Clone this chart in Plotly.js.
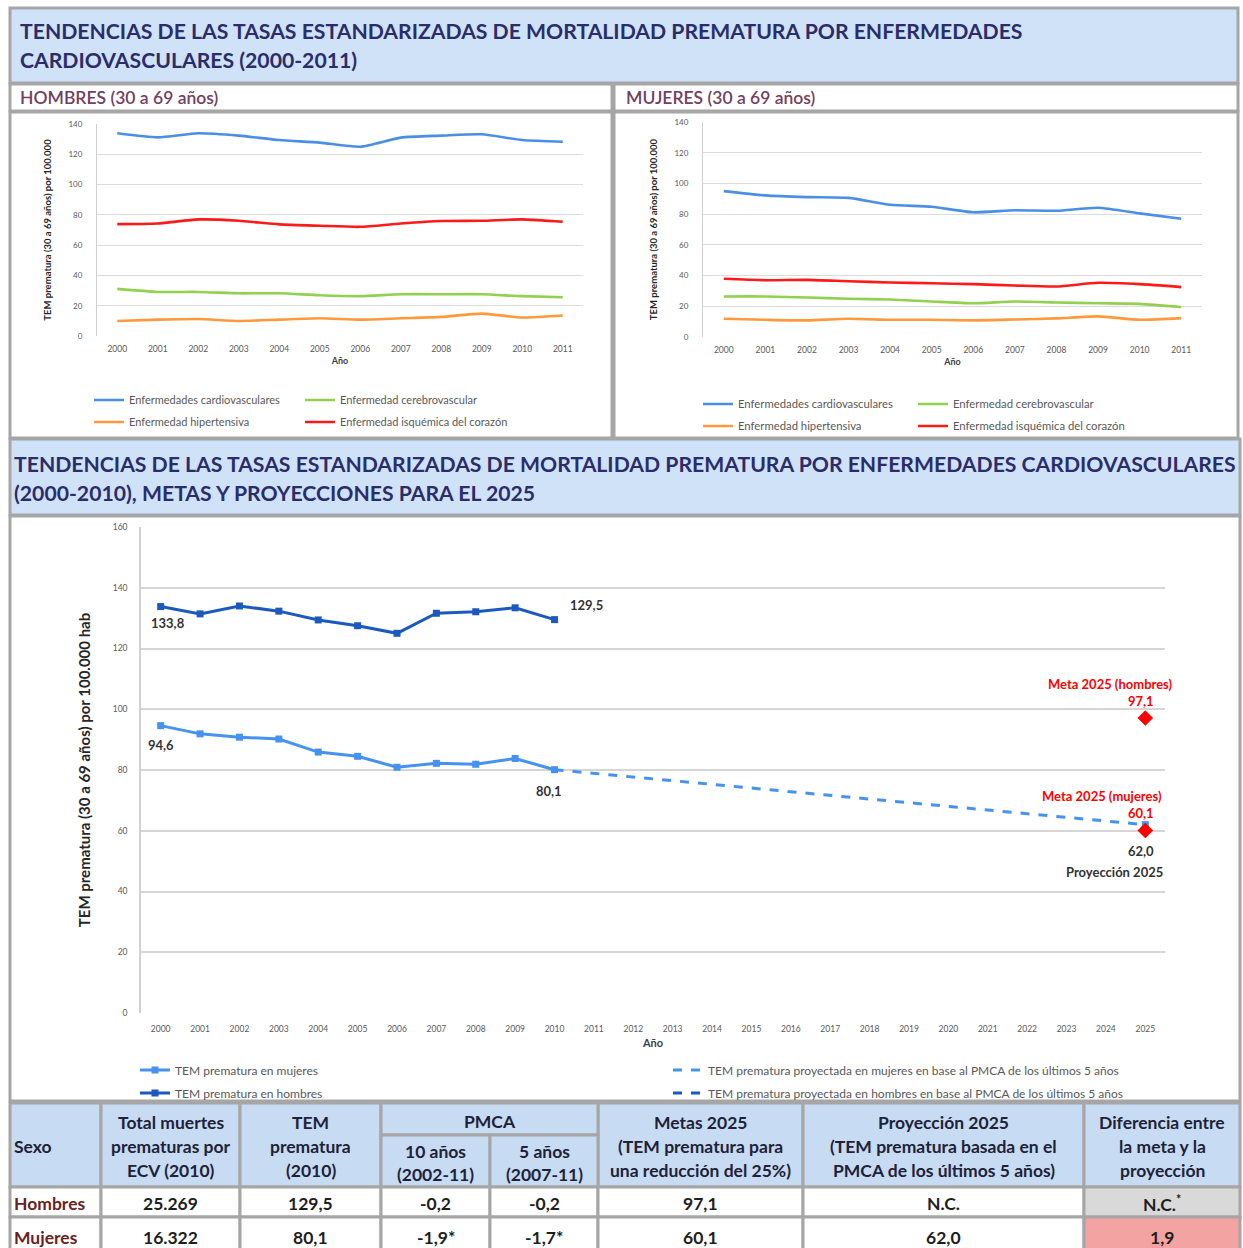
<!DOCTYPE html>
<html><head><meta charset="utf-8">
<script src="https://cdn.plot.ly/plotly-3.0.1.min.js"></script>
<style>html,body{margin:0;padding:0;background:#fff}</style>
</head><body>
<div id="chart" style="width:1243px;height:1248px"></div>
<script>
// ---------------- DATA ----------------
const years = [2000, 2001, 2002, 2003, 2004, 2005, 2006, 2007, 2008, 2009, 2010, 2011];
const yearLabels = ['2000','2001','2002','2003','2004','2005','2006','2007','2008','2009','2010','2011'];

const hombresCardio  = [133.9, 131.2, 133.9, 132.3, 129.4, 127.7, 125.0, 131.0, 132.3, 133.2, 129.4, 128.3];
const hombresCerebro = [31.1, 29.1, 29.1, 28.2, 28.2, 26.9, 26.3, 27.6, 27.6, 27.6, 26.3, 25.6];
const hombresHiper   = [9.9, 10.8, 11.2, 9.9, 10.8, 11.7, 10.8, 11.7, 12.6, 14.8, 12.2, 13.5];
const hombresIsq     = [73.9, 74.3, 77.0, 76.1, 73.7, 72.8, 72.1, 74.3, 75.9, 76.1, 77.0, 75.4];

const mujeresCardio  = [95.0, 92.2, 91.1, 90.6, 86.1, 84.8, 81.2, 82.5, 82.2, 84.2, 80.5, 77.0];
const mujeresCerebro = [26.4, 26.4, 25.7, 24.9, 24.4, 23.1, 22.0, 23.1, 22.5, 22.0, 21.6, 19.5];
const mujeresHiper   = [11.9, 11.2, 10.8, 11.9, 11.2, 11.2, 10.8, 11.4, 12.1, 13.4, 11.2, 12.3];
const mujeresIsq     = [37.9, 37.0, 37.2, 36.3, 35.5, 35.0, 34.4, 33.5, 32.9, 35.3, 34.4, 32.5];

const seriesNames = ['Enfermedades cardiovasculares', 'Enfermedad cerebrovascular', 'Enfermedad hipertensiva', 'Enfermedad isquémica del corazón'];

const yearsTem   = [2000, 2001, 2002, 2003, 2004, 2005, 2006, 2007, 2008, 2009, 2010];
const temHombres = [133.8, 131.4, 134.0, 132.3, 129.4, 127.5, 125.0, 131.6, 132.1, 133.4, 129.5];
const temMujeres = [94.6, 91.9, 90.8, 90.2, 85.9, 84.5, 80.9, 82.2, 81.9, 83.8, 80.1];
const yearsProy   = [2010, 2025];
const proyMujeres = [80.1, 62.0];
const metaYear    = [2025];
const metaHombres = [97.1];
const metaMujeres = [60.1];

const bottomYears = [2000,2001,2002,2003,2004,2005,2006,2007,2008,2009,2010,2011,2012,2013,2014,2015,2016,2017,2018,2019,2020,2021,2022,2023,2024,2025];
const bottomYearLabels = ['2000','2001','2002','2003','2004','2005','2006','2007','2008','2009','2010','2011','2012','2013','2014','2015','2016','2017','2018','2019','2020','2021','2022','2023','2024','2025'];

// table
const tableSexo        = ['Hombres', 'Mujeres'];
const tableTotal       = ['25.269', '16.322'];
const tableTem         = ['129,5', '80,1'];
const tablePmca10      = ['-0,2', '-1,9*'];
const tablePmca5       = ['-0,2', '-1,7*'];
const tableMetas       = ['97,1', '60,1'];
const tableProyeccion  = ['N.C.', '62,0'];
const tableDiferencia  = ['N.C.<sup>*</sup>', '1,9'];
const tableHeaderLines = [
  ['Sexo'],
  ['Total muertes', 'prematuras por', 'ECV (2010)'],
  ['TEM', 'prematura', '(2010)'],
  ['10 años', '(2002-11)'],
  ['5 años', '(2007-11)'],
  ['Metas 2025', '(TEM prematura para', 'una reducción del 25%)'],
  ['Proyección 2025', '(TEM prematura basada en el', 'PMCA de los últimos 5 años)'],
  ['Diferencia entre', 'la meta y la', 'proyección']
];

// ---------------- LAYOUT HELPERS ----------------
const W = 1243, H = 1248;
const px = x => x / W;
const py = y => 1 - y / H;
const fmt = v => v.toFixed(1).replace('.', ',');
const FONT = 'Lato, "Open Sans", sans-serif';
const BORDER = '#a6a6a6';
const BAND = '#cfe2f7';

const cBlue = '#4a8fe6', cGreen = '#92d050', cOrange = '#ff9a3c', cRed = '#ff1a1a';
const cWomen = '#4592f0', cMen = '#1c59bf';

const traces = [];
function topTraces(xa, ya, data, l1, l2) {
  const colors = [cBlue, cGreen, cOrange, cRed];
  const legs = [l1, l1, l2, l2];
  data.forEach((d, i) => {
    traces.push({
      x: years, y: d, xaxis: xa, yaxis: ya, type: 'scatter', mode: 'lines',
      name: seriesNames[i], legend: legs[i],
      line: {color: colors[i], width: 2.6, shape: 'spline', smoothing: 0.6},
      hoverinfo: 'x+y'
    });
  });
}
topTraces('x', 'y', [hombresCardio, hombresCerebro, hombresHiper, hombresIsq], 'legend', 'legend2');
topTraces('x2', 'y2', [mujeresCardio, mujeresCerebro, mujeresHiper, mujeresIsq], 'legend3', 'legend4');

traces.push({x: yearsTem, y: temMujeres, xaxis: 'x3', yaxis: 'y3', type: 'scatter', mode: 'lines+markers',
  name: 'TEM prematura en mujeres', legend: 'legend5',
  line: {color: cWomen, width: 3}, marker: {symbol: 'square', size: 7, color: cWomen}});
traces.push({x: yearsProy, y: proyMujeres, xaxis: 'x3', yaxis: 'y3', type: 'scatter', mode: 'lines',
  name: 'TEM prematura proyectada en mujeres en base al PMCA de los últimos 5 años', legend: 'legend5',
  line: {color: cWomen, width: 3, dash: 'dash'}});
traces.push({x: yearsTem, y: temHombres, xaxis: 'x3', yaxis: 'y3', type: 'scatter', mode: 'lines+markers',
  name: 'TEM prematura en hombres', legend: 'legend6',
  line: {color: cMen, width: 3}, marker: {symbol: 'square', size: 7, color: cMen}});
traces.push({x: [null], y: [null], xaxis: 'x3', yaxis: 'y3', type: 'scatter', mode: 'lines',
  name: 'TEM prematura proyectada en hombres en base al PMCA de los últimos 5 años', legend: 'legend6',
  line: {color: cMen, width: 3, dash: 'dash'}});
traces.push({x: metaYear, y: [proyMujeres[1]], xaxis: 'x3', yaxis: 'y3', type: 'scatter', mode: 'markers',
  showlegend: false, marker: {symbol: 'square', size: 7, color: cWomen}});
traces.push({x: metaYear, y: metaHombres, xaxis: 'x3', yaxis: 'y3', type: 'scatter', mode: 'markers',
  showlegend: false, marker: {symbol: 'diamond', size: 12, color: '#ff0000'}});
traces.push({x: metaYear, y: metaMujeres, xaxis: 'x3', yaxis: 'y3', type: 'scatter', mode: 'markers',
  showlegend: false, marker: {symbol: 'diamond', size: 12, color: '#ff0000'}});

// ---------------- AXES ----------------
function topX(domain, anchor) {
  return {domain: domain, anchor: anchor, range: [1999.5, 2011.5], tickvals: years, ticktext: yearLabels,
    showgrid: false, zeroline: false, showline: false, ticks: '', ticklabelstandoff: 6,
    tickfont: {family: FONT, size: 8.5, color: '#595959'},
    title: {text: 'Año', font: {family: FONT, size: 9, color: '#404040', weight: 'bold'}, standoff: 5}, fixedrange: true};
}
function topY(domain, anchor) {
  return {domain: domain, anchor: anchor, range: [0, 140], dtick: 20, gridcolor: '#dcdcdc', gridwidth: 1.2,
    zeroline: false, showline: true, linecolor: '#d0d0d0', linewidth: 1.2, ticks: '', ticklabelstandoff: 12,
    tickfont: {family: FONT, size: 8, color: '#595959'},
    title: {text: 'TEM prematura (30 a 69 años) por 100.000', font: {family: FONT, size: 9.5, color: '#262626', weight: 'bold'}, standoff: 15},
    fixedrange: true};
}

const layout = {
  width: W, height: H, margin: {l: 0, r: 0, t: 0, b: 0},
  paper_bgcolor: '#ffffff', plot_bgcolor: 'rgba(0,0,0,0)',
  font: {family: FONT},
  hovermode: 'closest',
  xaxis: topX([px(97), px(583)], 'y'),
  yaxis: topY([py(336), py(124)], 'x'),
  xaxis2: topX([px(703), px(1202)], 'y2'),
  yaxis2: topY([py(337), py(122)], 'x2'),
  xaxis3: {domain: [px(141), px(1165)], anchor: 'y3', range: [1999.5, 2025.5], tickvals: bottomYears, ticktext: bottomYearLabels,
    showgrid: false, zeroline: false, showline: false, ticks: '', ticklabelstandoff: 9,
    tickfont: {family: FONT, size: 8.5, color: '#595959'},
    title: {text: 'Año', font: {family: FONT, size: 11, color: '#404040', weight: 'bold'}, standoff: 6}, fixedrange: true},
  yaxis3: {domain: [py(1013), py(527)], anchor: 'x3', range: [0, 160], dtick: 20, gridcolor: '#d6d6d6', gridwidth: 1.5,
    zeroline: false, showline: true, linecolor: '#d0d0d0', linewidth: 1.5, ticks: '', ticklabelstandoff: 10,
    tickfont: {family: FONT, size: 8.5, color: '#595959'},
    title: {text: 'TEM prematura (30 a 69 años) por 100.000 hab', font: {family: FONT, size: 15, color: '#262626', weight: 'bold'}, standoff: 19},
    fixedrange: true},
  xaxis4: {domain: [0, 1], anchor: 'y4', range: [0, W], visible: false, fixedrange: true},
  yaxis4: {domain: [0, py(1100)], anchor: 'x4', range: [H, 1100], visible: false, fixedrange: true},
  shapes: [],
  annotations: []
};

function legendDef(x, y, ew, size) {
  return {orientation: 'h', x: px(x), y: py(y), xanchor: 'left', yanchor: 'middle',
    entrywidth: ew, entrywidthmode: 'pixels', bgcolor: 'rgba(0,0,0,0)', borderwidth: 0,
    font: {family: FONT, size: size, color: '#595959'}, itemclick: false, itemdoubleclick: false};
}
layout.legend  = legendDef(89, 400, 166, 11);
layout.legend2 = legendDef(89, 422, 166, 11);
layout.legend3 = legendDef(698, 404, 170, 11.3);
layout.legend4 = legendDef(698, 426, 170, 11.3);
layout.legend5 = legendDef(135, 1070, 488, 12);
layout.legend6 = legendDef(135, 1093, 488, 12);

// ---------------- FRAME ----------------
function rect(x0, y0, x1, y1, fill, layer) {
  layout.shapes.push({type: 'rect', xref: 'paper', yref: 'paper', x0: px(x0), x1: px(x1), y0: py(y1), y1: py(y0),
    fillcolor: fill, line: {color: BORDER, width: 3}, layer: layer || 'below'});
}
rect(10, 8, 1238, 83, BAND);
rect(10, 84, 612, 111, '#ffffff');
rect(614, 84, 1238, 111, '#ffffff');
rect(10, 112, 612, 438, '#ffffff');
rect(614, 112, 1238, 438, '#ffffff');
rect(10, 439, 1240, 515, BAND);
rect(10, 516, 1240, 1101, '#ffffff');

function ptext(text, x, y, size, color, weight) {
  layout.annotations.push({xref: 'paper', yref: 'paper', x: px(x), y: py(y), text: text, showarrow: false,
    xanchor: 'left', yanchor: 'middle', font: {family: FONT, size: size, color: color, weight: weight || 'normal'}});
}
const titleColor = '#2b2d6a';
ptext('TENDENCIAS DE LAS TASAS ESTANDARIZADAS DE MORTALIDAD PREMATURA POR ENFERMEDADES', 18, 31, 21.2, titleColor, 'bold');
ptext('CARDIOVASCULARES (2000-2011)', 18, 60, 21.2, titleColor, 'bold');
ptext('HOMBRES (30 a 69 años)', 18, 97, 17.5, '#734060', 600);
ptext('MUJERES (30 a 69 años)', 624, 97, 17.5, '#734060', 600);
ptext('TENDENCIAS DE LAS TASAS ESTANDARIZADAS DE MORTALIDAD PREMATURA POR ENFERMEDADES CARDIOVASCULARES', 12, 464, 21.2, titleColor, 'bold');
ptext('(2000-2010), METAS Y PROYECCIONES PARA EL 2025', 12, 493, 21.2, titleColor, 'bold');

// ---------------- DATA LABELS ----------------
function dlabel(x, y, text, xs, ys, color, anchor) {
  layout.annotations.push({xref: 'x3', yref: 'y3', x: x, y: y, text: text, showarrow: false,
    xshift: xs, yshift: ys, xanchor: anchor || 'center', yanchor: 'middle',
    font: {family: FONT, size: 13, color: color || '#333333', weight: 'bold'}});
}
const last = temHombres.length - 1;
dlabel(yearsTem[0], temHombres[0], fmt(temHombres[0]), 7, -16);
dlabel(yearsTem[last], temHombres[last], fmt(temHombres[last]), 32, 15);
dlabel(yearsTem[0], temMujeres[0], fmt(temMujeres[0]), 0, -19);
dlabel(yearsTem[last], temMujeres[last], fmt(temMujeres[last]), -6, -21);
dlabel(metaYear[0], metaHombres[0], 'Meta 2025 (hombres)', 30, 34, '#ff0000', 'right');
dlabel(metaYear[0], metaHombres[0], fmt(metaHombres[0]), -4, 17, '#ff0000');
dlabel(metaYear[0], metaMujeres[0], 'Meta 2025 (mujeres)', 19, 34, '#ff0000', 'right');
dlabel(metaYear[0], metaMujeres[0], fmt(metaMujeres[0]), -4, 17, '#ff0000');
dlabel(yearsProy[1], proyMujeres[1], fmt(proyMujeres[1]), -4, -26, '#333333');
dlabel(yearsProy[1], proyMujeres[1], 'Proyección 2025', 20, -47, '#333333', 'right');

// ---------------- TABLE ----------------
const colEdges = [10, 101, 240, 381, 490, 598, 803, 1084, 1240];
const hdrTop = 1103, pmcaDiv = 1135, hdrBot = 1187, rowEdges = [1187, 1217, 1252];
const HDR = '#c7dbf3';
const TFS = 17.5;
function trect(x0, y0, x1, y1, fill) {
  layout.shapes.push({type: 'rect', xref: 'x4', yref: 'y4', x0: x0, x1: x1, y0: y0, y1: y1,
    fillcolor: fill, line: {color: BORDER, width: 3}, layer: 'above'});
}
function ttext(text, x, y, color, anchor) {
  layout.annotations.push({xref: 'x4', yref: 'y4', x: x, y: y, text: text, showarrow: false,
    xanchor: anchor || 'center', yanchor: 'middle', font: {family: FONT, size: TFS, color: color || '#1e2238', weight: 'bold'}});
}
[[0,1],[1,2],[2,3],[5,6],[6,7],[7,8]].forEach(([a, b]) => trect(colEdges[a], hdrTop, colEdges[b], hdrBot, HDR));
trect(colEdges[3], hdrTop, colEdges[5], pmcaDiv, HDR);
trect(colEdges[3], pmcaDiv, colEdges[4], hdrBot, HDR);
trect(colEdges[4], pmcaDiv, colEdges[5], hdrBot, HDR);
ttext('PMCA', (colEdges[3] + colEdges[5]) / 2, 1121);
tableHeaderLines.forEach((lines, i) => {
  const cx = (colEdges[i] + colEdges[i + 1]) / 2;
  let ys;
  if (lines.length === 1) ys = [1146];
  else if (lines.length === 2) ys = [1151, 1174];
  else ys = [1122, 1146, 1170];
  lines.forEach((t, k) => {
    if (i === 0) ttext(t, colEdges[0] + 2, ys[k], '#1e2238', 'left');
    else ttext(t, cx, ys[k]);
  });
});
const bodyCols = [tableSexo, tableTotal, tableTem, tablePmca10, tablePmca5, tableMetas, tableProyeccion, tableDiferencia];
const rowY = [1203, 1237];
for (let r = 0; r < 2; r++) {
  bodyCols.forEach((col, c) => {
    let fill = '#ffffff';
    if (c === 7) fill = r === 0 ? '#d9d9d9' : '#f4a3a3';
    trect(colEdges[c], rowEdges[r], colEdges[c + 1], rowEdges[r + 1], fill);
    if (c === 0) ttext(col[r], colEdges[0] + 2, rowY[r], '#6a1f22', 'left');
    else ttext(col[r], (colEdges[c] + colEdges[c + 1]) / 2, rowY[r], '#1e1e1e');
  });
}

Plotly.newPlot('chart', traces, layout, {displayModeBar: false, responsive: false});
</script>
</body></html>
